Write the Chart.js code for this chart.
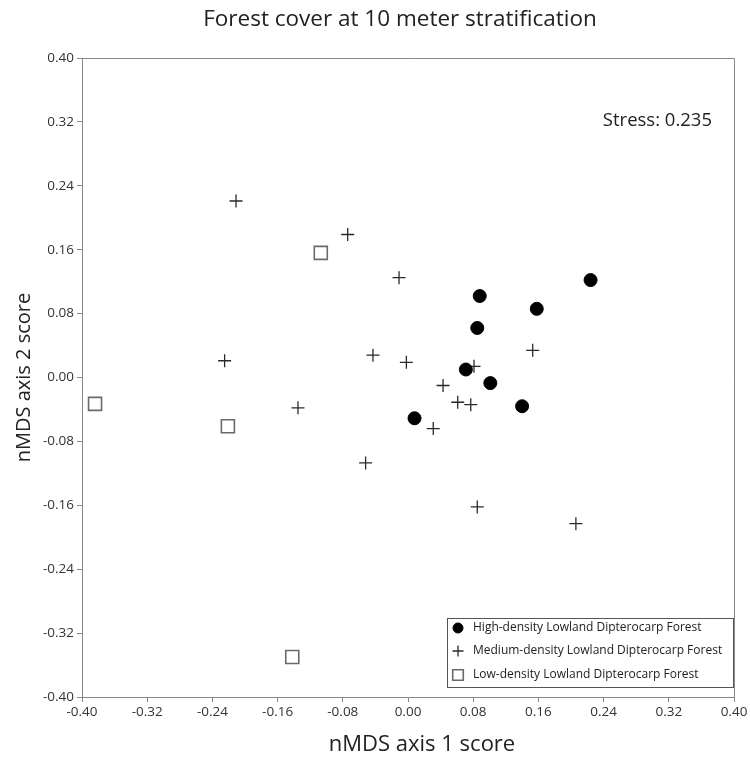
<!DOCTYPE html>
<html>
<head>
<meta charset="utf-8">
<title>Forest cover at 10 meter stratification</title>
<script src="https://cdn.jsdelivr.net/npm/chart.js@4.4.1/dist/chart.umd.min.js"></script>
<style>
  html, body { margin: 0; padding: 0; background: #fff; }
  #wrap { width: 750px; height: 758px; }
</style>
</head>
<body>
<div id="wrap"><canvas id="nmds" width="750" height="758"></canvas></div>
<script>
// nMDS scores per forest class (axis 1, axis 2)
const highX = [0.224, 0.088, 0.158, 0.085, 0.071, 0.101, 0.140, 0.008];
const highY = [0.122, 0.102, 0.086, 0.062, 0.010, -0.007, -0.036, -0.051];

const mediumX = [-0.211, -0.074, -0.011, 0.153, -0.002, 0.081, 0.043, 0.061, 0.077, 0.031, -0.043, -0.225, -0.135, -0.052, 0.085, 0.206];
const mediumY = [0.221, 0.179, 0.125, 0.034, 0.019, 0.014, -0.010, -0.031, -0.034, -0.064, 0.028, 0.021, -0.038, -0.107, -0.162, -0.183];

const lowX = [-0.107, -0.384, -0.221, -0.142];
const lowY = [0.156, -0.033, -0.061, -0.350];

const classNames = [
  'High-density Lowland Dipterocarp Forest',
  'Medium-density Lowland Dipterocarp Forest',
  'Low-density Lowland Dipterocarp Forest'
];

const axisTicks = [-0.40, -0.32, -0.24, -0.16, -0.08, 0.00, 0.08, 0.16, 0.24, 0.32, 0.40];
const stressValue = 0.235;

const FONT = '"Open Sans", "Noto Sans", sans-serif';
const toPoints = (xs, ys) => xs.map((x, i) => ({ x: x, y: ys[i] }));

const datasets = [
  {
    label: classNames[0],
    data: toPoints(highX, highY),
    pointStyle: 'circle',
    pointRadius: 6.5,
    pointBackgroundColor: '#000',
    pointBorderColor: '#000',
    pointBorderWidth: 1
  },
  {
    label: classNames[1],
    data: toPoints(mediumX, mediumY),
    pointStyle: 'cross',
    pointRadius: 6.5,
    pointBackgroundColor: '#2a2a2a',
    pointBorderColor: '#2a2a2a',
    pointBorderWidth: 1.3
  },
  {
    label: classNames[2],
    data: toPoints(lowX, lowY),
    pointStyle: 'rect',
    pointRadius: 9.2,
    pointBackgroundColor: 'rgba(255,255,255,0)',
    pointBorderColor: '#6a6a6a',
    pointBorderWidth: 1.6
  }
];

function fixedTicks(scale) {
  scale.ticks = axisTicks.map(v => ({ value: v }));
}

// frame, headings, stress note and boxed legend
const decorations = {
  id: 'decorations',
  afterDraw(chart) {
    const ctx = chart.ctx;
    const a = chart.chartArea;
    ctx.save();

    ctx.strokeStyle = '#888';
    ctx.lineWidth = 1;
    ctx.beginPath();
    ctx.moveTo(a.left, a.top + 0.5);
    ctx.lineTo(a.right + 0.5, a.top + 0.5);
    ctx.lineTo(a.right + 0.5, a.bottom);
    ctx.stroke();

    ctx.fillStyle = '#222';
    ctx.textAlign = 'center';
    ctx.textBaseline = 'middle';
    ctx.font = '22.5px ' + FONT;
    ctx.fillText('Forest cover at 10 meter stratification', 400, 20);

    ctx.font = '22px ' + FONT;
    ctx.fillText('nMDS axis 1 score', 422, 745);

    ctx.textAlign = 'right';
    ctx.font = '18.5px ' + FONT;
    ctx.fillText('Stress: ' + stressValue.toFixed(3), 712, 121);

    // legend
    const lx = 447, ly = 618, lw = 286, lh = 69;
    ctx.fillStyle = '#fff';
    ctx.fillRect(lx, ly, lw, lh);
    ctx.strokeStyle = '#555';
    ctx.lineWidth = 1;
    ctx.strokeRect(lx + 0.5, ly + 0.5, lw, lh);

    const rowY = [628, 651, 675];
    const legendRadius = [5, 5.5, 7.5];
    ctx.font = '12px ' + FONT;
    ctx.textAlign = 'left';
    chart.data.datasets.forEach((ds, i) => {
      ctx.fillStyle = ds.pointBackgroundColor;
      ctx.strokeStyle = ds.pointBorderColor;
      ctx.lineWidth = ds.pointBorderWidth;
      Chart.helpers.drawPoint(ctx, {
        pointStyle: ds.pointStyle,
        radius: legendRadius[i],
        rotation: 0,
        borderWidth: ds.pointBorderWidth
      }, 458, rowY[i]);
      ctx.fillStyle = '#222';
      ctx.fillText(ds.label, 473, rowY[i]);
    });

    ctx.restore();
  }
};

new Chart(document.getElementById('nmds'), {
  type: 'scatter',
  data: { datasets: datasets },
  options: {
    responsive: false,
    animation: false,
    layout: { padding: { top: 58, right: 16, left: 0, bottom: 0 } },
    plugins: {
      legend: { display: false },
      tooltip: { enabled: false }
    },
    scales: {
      x: {
        type: 'linear',
        min: -0.4,
        max: 0.4,
        afterBuildTicks: fixedTicks,
        afterFit: s => { s.height = 61; },
        grid: { drawOnChartArea: false, drawTicks: true, tickLength: 5, color: '#888' },
        border: { display: true, color: '#888', width: 1 },
        ticks: {
          color: '#333',
          padding: 2,
          maxRotation: 0,
          font: { family: FONT, size: 13.5 },
          callback: v => v.toFixed(2)
        }
      },
      y: {
        type: 'linear',
        min: -0.4,
        max: 0.4,
        afterBuildTicks: fixedTicks,
        afterFit: s => { s.width = 82; },
        grid: { drawOnChartArea: false, drawTicks: true, tickLength: 5, color: '#888' },
        border: { display: true, color: '#888', width: 1 },
        ticks: {
          color: '#333',
          padding: 3,
          font: { family: FONT, size: 13.5 },
          callback: v => v.toFixed(2)
        },
        title: {
          display: true,
          text: 'nMDS axis 2 score',
          color: '#222',
          font: { family: FONT, size: 20 },
          padding: { top: 12, bottom: 0 }
        }
      }
    }
  },
  plugins: [decorations]
});
</script>
</body>
</html>
